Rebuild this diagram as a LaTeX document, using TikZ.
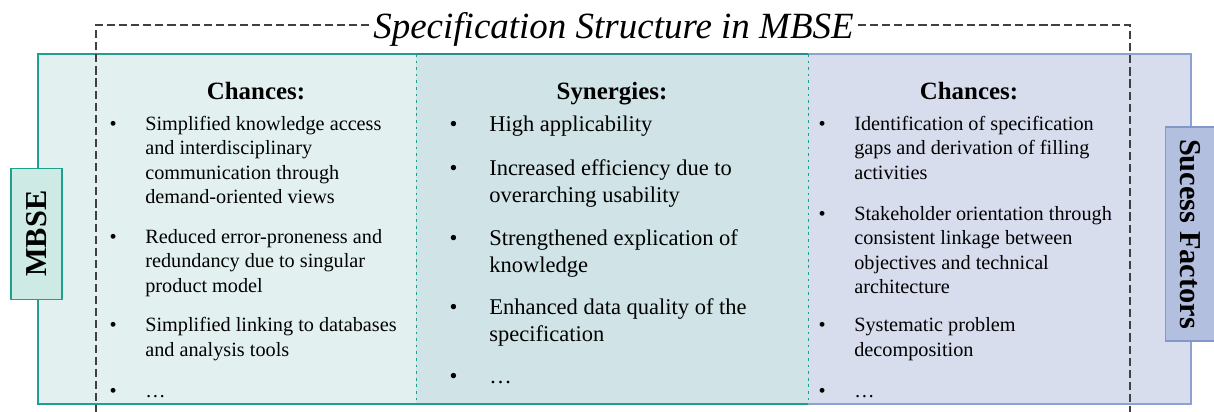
\documentclass[tikz,border=0pt]{standalone}
\usepackage{fontspec}
\setmainfont{Liberation Serif}
\usetikzlibrary{positioning}

\definecolor{mintfill}{HTML}{E2F1F0}
\definecolor{tealfill}{HTML}{D0E3E6}
\definecolor{lilacfill}{HTML}{D7DDED}
\definecolor{mbsefill}{HTML}{CDEAE5}
\definecolor{factorfill}{HTML}{B2BFDE}
\definecolor{mintline}{HTML}{1FA08E}
\definecolor{tealline}{HTML}{2A8C90}
\definecolor{lilacline}{HTML}{8DA2D2}
\definecolor{factorline}{HTML}{8397CB}
\definecolor{frameline}{HTML}{404040}

\newcommand{\bul}{\llap{\textbullet\hspace{1.41em}}\strut}

\tikzset{
    heading/.style={anchor=base, inner sep=0pt, font=\fontsize{17.7}{21}\selectfont\bfseries},
    bulletlist/.style={anchor=north west, inner sep=0pt, align=left, font=\fontsize{14.4}{17.4}\selectfont},
    widelist/.style={bulletlist, font=\fontsize{16}{19.2}\selectfont},
    sidebox/.style={draw, line width=0.8pt, inner sep=0pt, font=\fontsize{21.6}{26}\selectfont\bfseries},
    divider/.style={mintline, line width=0.6pt, dash pattern=on 1.9pt off 2.8pt},
    specframe/.style={frameline, line width=0.75pt, dash pattern=on 5.8pt off 2.8pt}
}

\begin{document}
\begin{tikzpicture}[x=0.025cm, y=-0.025cm]
        \useasboundingbox (0, 0) rectangle (1214, 412);
        % Panels
        \fill[mintfill] (38, 54) rectangle (416, 404);
        \fill[tealfill] (416, 54) rectangle (808, 404);
        \fill[lilacfill] (808, 54) rectangle (1191, 404);
        \draw[mintline, line width=0.8pt] (416, 54) -- (38, 54) -- (38, 404) -- (416, 404);
        \draw[tealline, line width=0.8pt] (416, 54) -- (808, 54);
        \draw[mintline, line width=0.8pt] (416, 404) -- (808, 404);
        \draw[lilacline, line width=0.8pt] (808, 54) -- (1191, 54) -- (1191, 404) -- (808, 404);
        \draw[divider] (416, 54) -- (416, 404);
        \draw[divider] (808, 54) -- (808, 404);
        % Side labels
        \node (mbse) at (36.5, 233.7) [sidebox, draw=mintline, fill=mbsefill, rotate=90, minimum width=3.27cm, minimum height=1.275cm] {MBSE};
        \node (factors) at (1190, 234) [sidebox, draw=factorline, fill=factorfill, rotate=-90, minimum width=5.35cm, minimum height=1.225cm] {Sucess Factors};
        % Title and dashed frame
        \node (title) at (613.5, 39) [anchor=base, inner xsep=0.1cm, font=\fontsize{26.3}{30}\selectfont\itshape] {Specification Structure in MBSE};
        \coordinate (ftl) at (96, 25);
        \coordinate (ftr) at (1130, 25);
        \coordinate (fbl) at (96, 414);
        \coordinate (fbr) at (1130, 414);
        \draw[specframe] (title.west |- ftl) -- (ftl) -- (fbl);
        \draw[specframe] (title.east |- ftr) -- (ftr) -- (fbr);
        % Headings
        \node (chancesl) at (256, 100) [heading] {Chances:};
        \node (synergies) at (612, 100) [heading] {Synergies:};
        \node (chancesr) at (969, 100) [heading] {Chances:};
        % Left items
        \node (l1) at (145, 112.9) [bulletlist] {\bul Simplified knowledge access\\and interdisciplinary\\communication through\\demand-oriented views};
        \node (l2) at (145, 225.9) [bulletlist] {\bul Reduced error-proneness and\\redundancy due to singular\\product model};
        \node (l3) at (145, 314.4) [bulletlist] {\bul Simplified linking to databases\\and analysis tools};
        \node (l4) at (145, 380.4) [bulletlist] {\bul …};
        % Middle items
        \node (m1) at (489, 112.1) [widelist] {\bul High applicability};
        \node (m2) at (489, 156.6) [widelist] {\bul Increased efficiency due to\\overarching usability};
        \node (m3) at (489, 226.1) [widelist] {\bul Strengthened explication of\\knowledge};
        \node (m4) at (489, 295.1) [widelist] {\bul Enhanced data quality of the\\specification};
        \node (m5) at (489, 364.1) [widelist] {\bul …};
        % Right items
        \node (r1) at (854, 112.9) [bulletlist] {\bul Identification of specification\\gaps and derivation of filling\\activities};
        \node (r2) at (854, 202.9) [bulletlist] {\bul Stakeholder orientation through\\consistent linkage between\\objectives and technical\\architecture};
        \node (r3) at (854, 314.4) [bulletlist] {\bul Systematic problem\\decomposition};
        \node (r4) at (854, 380.4) [bulletlist] {\bul …};
    \end{tikzpicture}
\end{document}
